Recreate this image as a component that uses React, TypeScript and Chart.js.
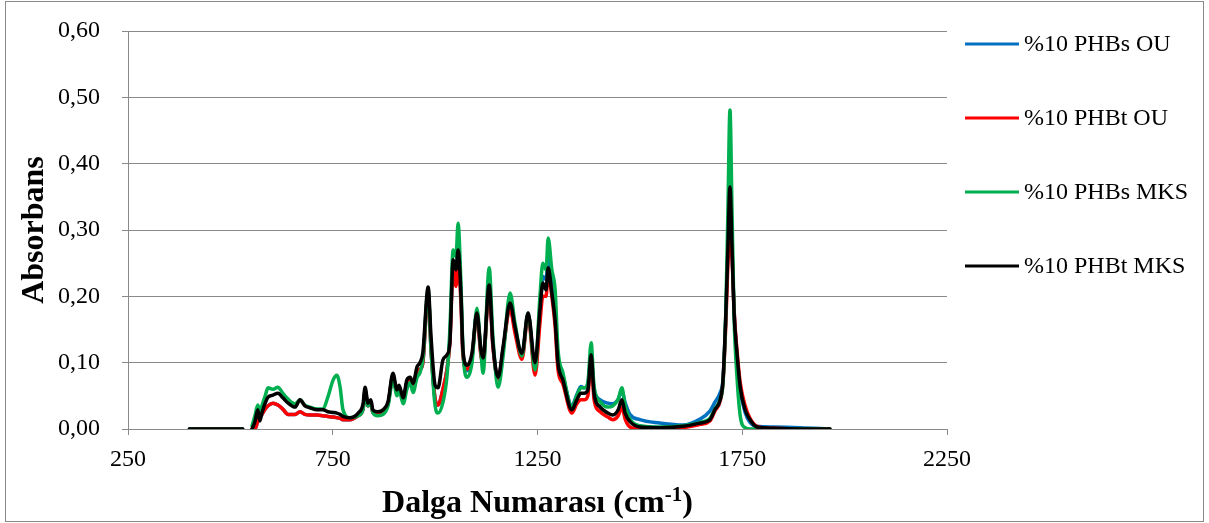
import React, { useEffect, useRef } from 'react';
import { Chart, registerables } from 'chart.js';

Chart.register(...registerables);

const FONT = "'Liberation Serif', 'Times New Roman', serif";
const GRID = '#898989';

const wavenumbers = [
  400, 530, 541, 553, 560, 567, 572, 577, 585, 592,
  604, 616, 628, 641, 658, 670, 682, 694, 712, 726,
  738, 751, 760, 768, 775, 792, 812, 824, 829, 836,
  843, 848, 860, 873, 885, 897, 907, 912, 922, 931,
  939, 946, 956, 963, 970, 983, 990, 1000, 1007, 1019,
  1029, 1036, 1044, 1051, 1056, 1063, 1068, 1078, 1090, 1102,
  1112, 1117, 1132, 1141, 1154, 1166, 1183, 1195, 1212, 1227,
  1244, 1256, 1263, 1271, 1276, 1285, 1293, 1300, 1312, 1334,
  1346, 1356, 1364, 1373, 1381, 1388, 1403, 1422, 1434, 1447,
  1456, 1464, 1476, 1500, 1549, 1605, 1647, 1671, 1683, 1696,
  1703, 1710, 1715, 1720, 1725, 1730, 1737, 1745, 1757, 1769,
  1786, 1825, 1891, 1964,
];

const phbsOu = [
  0, 0, null, 0, 0, 0.012, 0.018, 0.022, 0.030, 0.035,
  0.039, 0.036, 0.030, 0.022, 0.022, 0.026, 0.022, 0.021, 0.021, 0.020,
  0.019, 0.018, 0.017, 0.016, 0.014, 0.014, 0.020, 0.030, 0.058, 0.035,
  0.038, 0.025, 0.022, 0.026, 0.038, 0.080, 0.055, 0.062, 0.045, 0.070,
  0.075, 0.065, 0.088, 0.090, 0.100, 0.205, 0.120, 0.045, 0.036, 0.060,
  0.090, 0.135, 0.250, 0.230, 0.270, 0.200, 0.115, 0.088, 0.108, 0.175,
  0.112, 0.100, 0.215, 0.128, 0.075, 0.120, 0.185, 0.150, 0.110, 0.172,
  0.090, 0.175, 0.230, 0.225, 0.260, 0.215, 0.175, 0.100, 0.078, 0.035,
  0.052, 0.064, 0.062, 0.068, 0.110, 0.060, 0.044, 0.039, 0.038, 0.045,
  0.058, 0.040, 0.022, 0.014, 0.009, 0.006, 0.015, 0.027, 0.040, 0.055,
  0.075, 0.170, 0.270, 0.330, 0.270, 0.180, 0.110, 0.060, 0.025, 0.010,
  0.004, 0.003, 0.002, 0,
];

const phbtOu = [
  0, 0, null, 0, 0, 0.012, 0.018, 0.022, 0.030, 0.035,
  0.039, 0.036, 0.030, 0.022, 0.022, 0.026, 0.022, 0.021, 0.021, 0.020,
  0.019, 0.018, 0.017, 0.016, 0.014, 0.014, 0.020, 0.030, 0.058, 0.035,
  0.038, 0.025, 0.022, 0.026, 0.038, 0.080, 0.055, 0.062, 0.045, 0.070,
  0.075, 0.065, 0.088, 0.090, 0.100, 0.205, 0.120, 0.045, 0.036, 0.060,
  0.090, 0.130, 0.240, 0.215, 0.255, 0.190, 0.110, 0.090, 0.110, 0.170,
  0.110, 0.100, 0.210, 0.125, 0.075, 0.120, 0.180, 0.145, 0.105, 0.170,
  0.081, 0.160, 0.200, 0.200, 0.235, 0.200, 0.155, 0.090, 0.068, 0.024,
  0.038, 0.044, 0.044, 0.050, 0.105, 0.045, 0.026, 0.018, 0.014, 0.020,
  0.033, 0.015, 0.003, 0, 0, 0.002, 0.007, 0.012, 0.027, 0.042,
  0.070, 0.160, 0.250, 0.300, 0.260, 0.180, 0.120, 0.070, 0.035, 0.016,
  0.004, 0.001, 0, 0,
];

const phbsMks = [
  0, 0, null, 0.005, 0.020, 0.036, 0.025, 0.035, 0.050, 0.062,
  0.060, 0.063, 0.054, 0.045, 0.038, 0.044, 0.036, 0.033, 0.030, 0.030,
  0.048, 0.074, 0.081, 0.063, 0.029, 0.017, 0.020, 0.030, 0.058, 0.035,
  0.040, 0.025, 0.020, 0.022, 0.035, 0.075, 0.050, 0.058, 0.038, 0.060,
  0.070, 0.055, 0.078, 0.085, 0.105, 0.210, 0.120, 0.035, 0.024, 0.040,
  0.080, 0.150, 0.270, 0.260, 0.310, 0.220, 0.120, 0.078, 0.100, 0.182,
  0.115, 0.084, 0.243, 0.140, 0.063, 0.110, 0.205, 0.160, 0.110, 0.175,
  0.089, 0.200, 0.250, 0.240, 0.288, 0.240, 0.210, 0.120, 0.085, 0.033,
  0.050, 0.062, 0.062, 0.070, 0.130, 0.065, 0.041, 0.033, 0.035, 0.045,
  0.062, 0.035, 0.015, 0.005, 0.003, 0.005, 0.010, 0.016, 0.030, 0.045,
  0.070, 0.180, 0.330, 0.481, 0.330, 0.170, 0.080, 0.020, 0.002, 0,
  0, 0, 0, 0,
];

const phbtMks = [
  0, 0, null, 0, 0.011, 0.029, 0.012, 0.024, 0.039, 0.048,
  0.051, 0.054, 0.047, 0.039, 0.033, 0.044, 0.035, 0.032, 0.029, 0.029,
  0.026, 0.025, 0.024, 0.022, 0.019, 0.017, 0.024, 0.038, 0.063, 0.039,
  0.044, 0.029, 0.026, 0.029, 0.041, 0.084, 0.059, 0.066, 0.047, 0.074,
  0.078, 0.069, 0.094, 0.100, 0.115, 0.214, 0.139, 0.066, 0.062, 0.104,
  0.112, 0.130, 0.255, 0.240, 0.270, 0.205, 0.119, 0.096, 0.114, 0.175,
  0.119, 0.107, 0.217, 0.130, 0.078, 0.124, 0.190, 0.154, 0.114, 0.175,
  0.100, 0.180, 0.220, 0.210, 0.243, 0.205, 0.164, 0.100, 0.074, 0.029,
  0.044, 0.054, 0.054, 0.059, 0.112, 0.054, 0.033, 0.024, 0.021, 0.029,
  0.044, 0.024, 0.011, 0.003, 0.002, 0.004, 0.009, 0.014, 0.029, 0.044,
  0.074, 0.175, 0.274, 0.365, 0.274, 0.175, 0.115, 0.063, 0.029, 0.014,
  0.003, 0.001, 0, 0,
];

const seriesLabels = ['%10 PHBs OU', '%10 PHBt OU', '%10 PHBs MKS', '%10 PHBt MKS'];
const seriesValues = [phbsOu, phbtOu, phbsMks, phbtMks];
const seriesColors = ['#0070C0', '#FF0000', '#00B050', '#000000'];

const xTickValues = [250, 750, 1250, 1750, 2250];
const yTickValues = [0, 0.1, 0.2, 0.3, 0.4, 0.5, 0.6];
const yTitle = 'Absorbans';
const xTitleMain = 'Dalga Numarası (cm';
const xTitleSup = '-1';
const xTitleEnd = ')';

const xTitlePlugin = {
  id: 'xTitleSup',
  afterDraw(chart: any) {
    const ctx = chart.ctx;
    const area = chart.chartArea;
    const cx = (area.left + area.right) / 2;
    const baseY = 512;
    ctx.save();
    ctx.fillStyle = '#000';
    ctx.textBaseline = 'alphabetic';
    ctx.textAlign = 'left';
    const big = `bold 32px ${FONT}`;
    const small = `bold 21px ${FONT}`;
    ctx.font = big;
    const w1 = ctx.measureText(xTitleMain).width;
    const w3 = ctx.measureText(xTitleEnd).width;
    ctx.font = small;
    const w2 = ctx.measureText(xTitleSup).width;
    let x = cx - (w1 + w2 + w3) / 2;
    ctx.font = big;
    ctx.fillText(xTitleMain, x, baseY);
    x += w1;
    ctx.font = small;
    ctx.fillText(xTitleSup, x, baseY - 11);
    x += w2;
    ctx.font = big;
    ctx.fillText(xTitleEnd, x, baseY);
    ctx.restore();
  },
};

const legendPlugin = {
  id: 'sideLegend',
  afterDraw(chart: any) {
    const ctx = chart.ctx;
    ctx.save();
    ctx.font = `24px ${FONT}`;
    ctx.textBaseline = 'middle';
    ctx.textAlign = 'left';
    chart.data.datasets.forEach((ds: any, i: number) => {
      const y = 44 + i * 74;
      ctx.fillStyle = ds.borderColor;
      ctx.fillRect(965, y - 1.5, 54, 3);
      ctx.fillStyle = '#000';
      ctx.fillText(ds.label, 1024, y + 1);
    });
    ctx.restore();
  },
};

export default function App() {
  const canvasRef = useRef<HTMLCanvasElement | null>(null);

  useEffect(() => {
    document.body.style.margin = '0';
    const canvas = canvasRef.current;
    if (!canvas) return;
    const datasets = seriesLabels.map((label, i) => ({
      label,
      data: wavenumbers.map((x, j) => ({ x, y: seriesValues[i][j] })),
      borderColor: seriesColors[i],
      backgroundColor: seriesColors[i],
      borderWidth: 3.5,
      pointRadius: 0,
      cubicInterpolationMode: 'monotone' as const,
      borderJoinStyle: 'round' as const,
      borderCapStyle: 'round' as const,
      spanGaps: false,
      order: seriesLabels.length - i,
    }));
    const chart = new Chart(canvas, {
      type: 'line',
      data: { datasets },
      options: {
        animation: false,
        responsive: false,
        maintainAspectRatio: false,
        devicePixelRatio: 1,
        layout: { padding: { left: 0, top: 31, right: 262, bottom: 0 } },
        plugins: {
          legend: { display: false },
          tooltip: { enabled: false },
        },
        scales: {
          x: {
            type: 'linear',
            min: 250,
            max: 2250,
            afterBuildTicks: (s: any) => {
              s.ticks = xTickValues.map((v) => ({ value: v }));
            },
            afterFit: (s: any) => {
              s.height = 94;
            },
            grid: { drawOnChartArea: false, drawTicks: true, tickLength: 6, color: GRID },
            border: { display: true, color: GRID },
            ticks: {
              font: { family: FONT, size: 24 },
              color: '#000',
              padding: 10,
              maxRotation: 0,
              autoSkip: false,
              callback: (v: any) => String(v),
            },
          },
          y: {
            min: 0,
            max: 0.6,
            afterBuildTicks: (s: any) => {
              s.ticks = yTickValues.map((v) => ({ value: v }));
            },
            afterFit: (s: any) => {
              s.width = 128;
              s.paddingTop = 0;
              s.paddingBottom = 0;
            },
            grid: { color: GRID, tickLength: 6 },
            border: { display: true, color: GRID },
            ticks: {
              font: { family: FONT, size: 24 },
              color: '#000',
              padding: 22,
              callback: (v: any) => Number(v).toFixed(2).replace('.', ','),
            },
            title: {
              display: true,
              text: yTitle,
              color: '#000',
              font: { family: FONT, size: 32, weight: 'bold' },
              padding: { top: 16, bottom: 0 },
            },
          },
        },
      },
      plugins: [xTitlePlugin, legendPlugin],
    });
    return () => chart.destroy();
  }, []);

  return (
    <div style={{ position: 'relative', width: 1209, height: 523, background: '#fff' }}>
      <canvas ref={canvasRef} width={1209} height={523} style={{ position: 'absolute', left: 0, top: 0 }} />
      <div
        style={{
          position: 'absolute',
          left: 5,
          top: 1,
          width: 1197,
          height: 519,
          border: '1px solid #8a8a8a',
          pointerEvents: 'none',
        }}
      />
    </div>
  );
}
